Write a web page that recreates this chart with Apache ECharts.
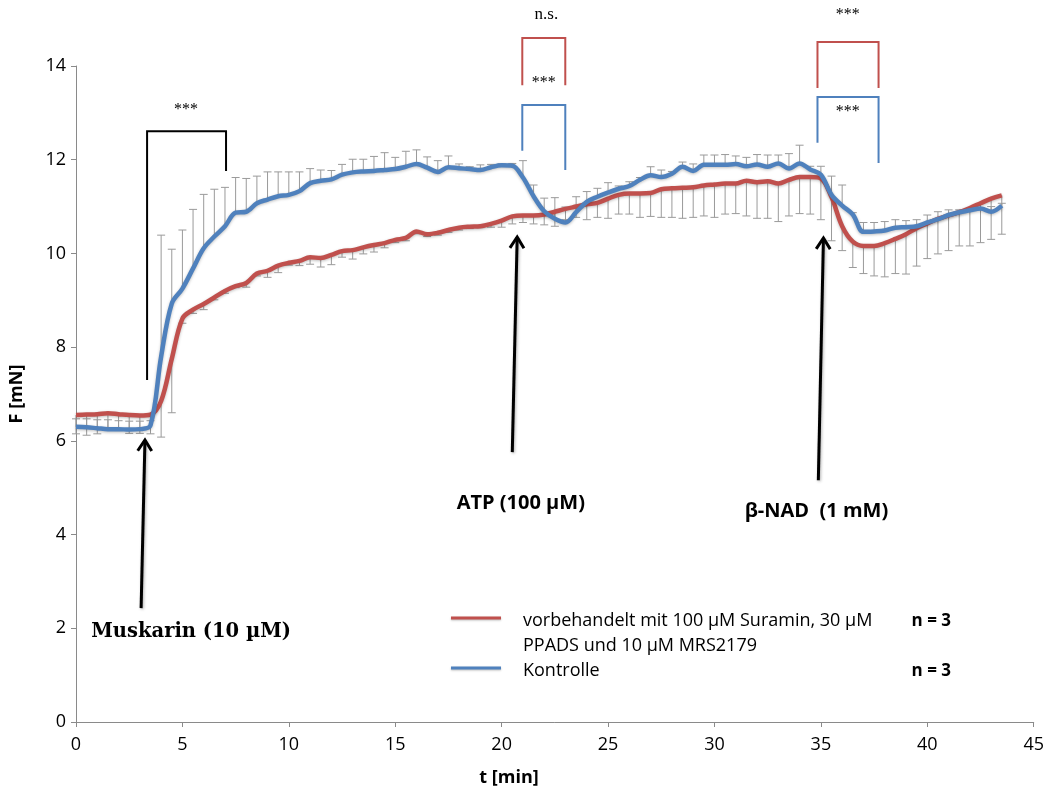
<!DOCTYPE html>
<html>
<head>
<meta charset="utf-8">
<script src="https://cdn.jsdelivr.net/npm/echarts@6/dist/echarts.min.js"></script>
<style>
  html, body { margin: 0; padding: 0; background: #fff; }
  #chart { width: 1047px; height: 796px; }
</style>
</head>
<body>
<div id="chart"></div>
<script>
// Time points (min)
const times = [
  0, 0.5, 1, 1.5, 2, 2.5, 3, 3.5, 4, 4.5, 5, 5.5, 6, 6.5, 7, 7.5,
  8, 8.5, 9, 9.5, 10, 10.5, 11, 11.5, 12, 12.5, 13, 13.5, 14, 14.5, 15, 15.5,
  16, 16.5, 17, 17.5, 18, 18.5, 19, 19.5, 20, 20.5, 21, 21.5, 22, 22.5, 23, 23.5,
  24, 24.5, 25, 25.5, 26, 26.5, 27, 27.5, 28, 28.5, 29, 29.5, 30, 30.5, 31, 31.5,
  32, 32.5, 33, 33.5, 34, 34.5, 35, 35.5, 36, 36.5, 37, 37.5, 38, 38.5, 39, 39.5,
  40, 40.5, 41, 41.5, 42, 42.5, 43, 43.5
];

// Suramin / PPADS / MRS2179 pretreated, mean force (mN)
const suraminMean = [
  6.55, 6.56, 6.57, 6.59, 6.57, 6.55, 6.54, 6.56, 6.85, 7.75, 8.61, 8.80, 8.92, 9.06, 9.20, 9.30,
  9.37, 9.57, 9.63, 9.74, 9.80, 9.84, 9.92, 9.90, 9.97, 10.05, 10.07, 10.13, 10.18, 10.22, 10.29, 10.33,
  10.47, 10.41, 10.44, 10.50, 10.55, 10.57, 10.58, 10.63, 10.70, 10.79, 10.81, 10.81, 10.83, 10.89, 10.95, 11.00,
  11.05, 11.08, 11.17, 11.25, 11.28, 11.28, 11.29, 11.37, 11.39, 11.40, 11.41, 11.45, 11.47, 11.49, 11.49, 11.55,
  11.52, 11.54, 11.49, 11.57, 11.63, 11.63, 11.60, 11.20, 10.58, 10.25, 10.16, 10.16, 10.22, 10.31, 10.41, 10.54,
  10.64, 10.74, 10.81, 10.88, 10.97, 11.07, 11.17, 11.24
];
// Suramin group, error (drawn downwards)
const suraminErr = [
  0.40, 0.44, 0.42, 0.36, 0.35, 0.39, 0.38, 0.41, 0.77, 1.15, 0.10, 0.08, 0.12, 0.05, 0.05, 0.03,
  0.09, 0.05, 0.14, 0.15, 0.05, 0.10, 0.15, 0.19, 0.21, 0.13, 0.19, 0.14, 0.15, 0.10, 0.06, 0.06,
  0.05, 0.05, 0.05, 0.05, 0.05, 0.04, 0.03, 0.07, 0.14, 0.16, 0.15, 0.18, 0.22, 0.31, 0.23, 0.23,
  0.33, 0.31, 0.42, 0.41, 0.44, 0.51, 0.50, 0.60, 0.62, 0.65, 0.64, 0.65, 0.70, 0.65, 0.64, 0.75,
  0.77, 0.79, 0.81, 0.77, 0.78, 0.79, 0.88, 0.93, 0.52, 0.55, 0.59, 0.64, 0.72, 0.74, 0.85, 0.81,
  0.75, 0.75, 0.75, 0.72, 0.81, 0.84, 0.87, 0.83
];

// Control, mean force (mN)
const controlMean = [
  6.30, 6.29, 6.27, 6.25, 6.25, 6.24, 6.25, 6.33, 7.80, 8.93, 9.25, 9.68, 10.11, 10.36, 10.58, 10.87,
  10.89, 11.07, 11.15, 11.22, 11.25, 11.33, 11.50, 11.55, 11.58, 11.68, 11.73, 11.75, 11.76, 11.78, 11.80, 11.85,
  11.91, 11.83, 11.74, 11.84, 11.82, 11.80, 11.78, 11.84, 11.88, 11.87, 11.62, 11.22, 10.90, 10.74, 10.66, 10.88,
  11.10, 11.21, 11.30, 11.38, 11.44, 11.57, 11.67, 11.63, 11.70, 11.85, 11.76, 11.89, 11.89, 11.89, 11.91, 11.86,
  11.90, 11.85, 11.92, 11.81, 11.92, 11.79, 11.68, 11.25, 11.02, 10.83, 10.46, 10.47, 10.49, 10.55, 10.56, 10.58,
  10.66, 10.73, 10.82, 10.88, 10.92, 10.96, 10.89, 11.02
];
// Control, error (drawn upwards)
const controlErr = [
  0.17, 0.18, 0.18, 0.20, 0.18, 0.18, 0.17, 0.10, 2.59, 1.16, 1.25, 1.26, 1.15, 1.01, 0.83, 0.75,
  0.71, 0.58, 0.59, 0.52, 0.49, 0.41, 0.31, 0.23, 0.19, 0.22, 0.28, 0.26, 0.31, 0.37, 0.25, 0.33,
  0.30, 0.23, 0.24, 0.24, 0.09, 0.05, 0.11, 0.06, 0.03, 0.05, 0.36, 0.24, 0.28, 0.45, 0.33, 0.33,
  0.22, 0.18, 0.21, 0.06, 0.09, 0.05, 0.18, 0.15, 0.05, 0.10, 0.15, 0.21, 0.21, 0.22, 0.17, 0.19,
  0.21, 0.25, 0.18, 0.32, 0.39, 0.07, 0.18, 0.40, 0.44, 0.04, 0.20, 0.19, 0.19, 0.17, 0.14, 0.14,
  0.16, 0.16, 0.11, 0.05, 0.03, 0.02, 0.11, 0.05
];

const seriesNames = ['vorbehandelt mit 100 µM Suramin, 30 µM\nPPADS und 10 µM MRS2179', 'Kontrolle'];
const xTicks = [0, 5, 10, 15, 20, 25, 30, 35, 40, 45];
const yTicks = [0, 2, 4, 6, 8, 10, 12, 14];

const RED = '#C0504D';
const BLUE = '#4F81BD';
const SANS = '"Open Sans", "Liberation Sans", sans-serif';
const SERIF = '"DejaVu Serif", "Liberation Serif", serif';

const chart = echarts.init(document.getElementById('chart'), null, { renderer: 'canvas' });

function pairs(ys) { return times.map((t, i) => [t, ys[i]]); }
function errData(ys, es, dir) { return times.map((t, i) => [t, ys[i], es[i], dir]); }

// One error bar: vertical whisker from the mean plus a short cap
function renderErr(params, api) {
  const t = api.value(0), v = api.value(1), e = api.value(2), d = api.value(3);
  const p0 = api.coord([t, v]);
  const p1 = api.coord([t, v + d * e]);
  const cap = 4;
  const style = { stroke: '#9a9a9a', lineWidth: 1 };
  return {
    type: 'group',
    children: [
      { type: 'line', shape: { x1: p0[0], y1: p0[1], x2: p1[0], y2: p1[1] }, style },
      { type: 'line', shape: { x1: p1[0] - cap, y1: p1[1], x2: p1[0] + cap, y2: p1[1] }, style }
    ]
  };
}

const lineShadow = { shadowColor: 'rgba(0,0,0,0.25)', shadowBlur: 3, shadowOffsetY: 1 };

chart.setOption({
  animation: false,
  backgroundColor: '#fff',
  grid: { left: 76, right: 12, top: 66, bottom: 74, containLabel: false },
  xAxis: {
    type: 'value', min: 0, max: 45, interval: 5,
    axisLine: { show: true, lineStyle: { color: '#8a8a8a', width: 1 } },
    axisTick: { show: true, length: 5, lineStyle: { color: '#8a8a8a' } },
    axisLabel: { fontFamily: SANS, fontSize: 18, color: '#000', margin: 14,
      formatter: v => xTicks.includes(v) ? String(v) : '' },
    splitLine: { show: false }
  },
  yAxis: {
    type: 'value', min: 0, max: 14, interval: 2,
    name: 'F [mN]', nameLocation: 'middle', nameGap: 50, nameRotate: 90,
    nameTextStyle: { fontFamily: SANS, fontWeight: 'bold', fontSize: 18, color: '#000' },
    axisLine: { show: true, lineStyle: { color: '#8a8a8a', width: 1 } },
    axisTick: { show: true, length: 5, lineStyle: { color: '#8a8a8a' } },
    axisLabel: { fontFamily: SANS, fontSize: 18, color: '#000', margin: 10,
      formatter: v => yTicks.includes(v) ? String(v) : '' },
    splitLine: { show: false }
  },
  series: [
    { type: 'custom', name: 'errSuramin', renderItem: renderErr, data: errData(suraminMean, suraminErr, -1),
      encode: { x: 0, y: 1 }, z: 1, silent: true },
    { type: 'custom', name: 'errKontrolle', renderItem: renderErr, data: errData(controlMean, controlErr, 1),
      encode: { x: 0, y: 1 }, z: 1, silent: true },
    { type: 'line', name: seriesNames[0], data: pairs(suraminMean), smooth: 0.35, showSymbol: false,
      lineStyle: Object.assign({ color: RED, width: 4.5 }, lineShadow), z: 3 },
    { type: 'line', name: seriesNames[1], data: pairs(controlMean), smooth: 0.35, showSymbol: false,
      lineStyle: Object.assign({ color: BLUE, width: 4.5 }, lineShadow), z: 4 }
  ]
});

// Annotation geometry in data units [t, F]
const stimuli = [
  { label: 'Muskarin (10 µM)', tail: [3.06, 2.43], head: [3.24, 6.02], at: [5.41, 1.93], font: SERIF, size: 19.5 },
  { label: 'ATP (100 µM)', tail: [20.5, 5.76], head: [20.73, 10.35], at: [20.9, 4.67], font: SANS, size: 20 },
  { label: 'β-NAD  (1 mM)', tail: [34.88, 5.16], head: [35.12, 10.33], at: [34.79, 4.49], font: SANS, size: 20 }
];
const brackets = [
  { color: '#000', x: [3.34, 7.05], top: 12.61, left: 7.30, right: 11.76, star: '***', starAt: [5.17, 13.06] },
  { color: RED, x: [20.97, 22.99], top: 14.60, left: 13.59, right: 13.59, star: 'n.s.', starAt: [22.1, 15.09] },
  { color: BLUE, x: [20.97, 22.99], top: 13.17, left: 12.19, right: 11.78, star: '***', starAt: [21.98, 13.64] },
  { color: RED, x: [34.84, 37.71], top: 14.51, left: 13.53, right: 13.53, star: '***', starAt: [36.26, 15.09] },
  { color: BLUE, x: [34.84, 37.71], top: 13.34, left: 12.36, right: 11.93, star: '***', starAt: [36.26, 13.02] }
];

function px(p) { return chart.convertToPixel({ xAxisIndex: 0, yAxisIndex: 0 }, p); }

const g = [];
stimuli.forEach(s => {
  const a = px(s.tail), b = px(s.head);
  const dx = b[0] - a[0], dy = b[1] - a[1];
  const len = Math.hypot(dx, dy), ux = dx / len, uy = dy / len;
  const hl = 11, hw = 7;
  const l = [b[0] - ux * hl - uy * hw, b[1] - uy * hl + ux * hw];
  const r = [b[0] - ux * hl + uy * hw, b[1] - uy * hl - ux * hw];
  g.push({ type: 'line', shape: { x1: a[0], y1: a[1], x2: b[0], y2: b[1] },
    style: { stroke: '#000', lineWidth: 3, shadowColor: 'rgba(0,0,0,0.3)', shadowBlur: 3, shadowOffsetX: 1, shadowOffsetY: 1 }, z: 10 });
  g.push({ type: 'polyline', shape: { points: [l, b, r] },
    style: { stroke: '#000', fill: null, lineWidth: 3, lineJoin: 'miter' }, z: 10 });
  const c = px(s.at);
  g.push({ type: 'text', x: c[0], y: c[1], z: 10,
    style: { text: s.label, fontFamily: s.font, fontWeight: 'bold', fontSize: s.size, fill: '#000',
      align: 'center', verticalAlign: 'middle' } });
});
brackets.forEach(br => {
  const lb = px([br.x[0], br.left]), lt = px([br.x[0], br.top]);
  const rt = px([br.x[1], br.top]), rb = px([br.x[1], br.right]);
  g.push({ type: 'polyline', shape: { points: [lb, lt, rt, rb] },
    style: { stroke: br.color, fill: null, lineWidth: 2 }, z: 10 });
  const s = px(br.starAt);
  g.push({ type: 'text', x: s[0], y: s[1], z: 10,
    style: { text: br.star, fontFamily: '"Liberation Serif", serif', fontSize: br.star === 'n.s.' ? 17 : 16,
      fill: '#000', align: 'center', verticalAlign: 'middle' } });
});

// x axis title, set slightly left of the axis centre
g.push({ type: 'text', x: 509, y: 778, z: 10,
  style: { text: 't [min]', fontFamily: SANS, fontWeight: 'bold', fontSize: 18, fill: '#000',
    align: 'center', verticalAlign: 'middle' } });

// Legend
const legendRows = [
  { color: RED, text: seriesNames[0], n: 'n = 3', y: 620 },
  { color: BLUE, text: seriesNames[1], n: 'n = 3', y: 670 }
];
legendRows.forEach(row => {
  g.push({ type: 'line', shape: { x1: 451, y1: row.y - 2, x2: 501, y2: row.y - 2 },
    style: { stroke: row.color, lineWidth: 3, shadowColor: 'rgba(0,0,0,0.25)', shadowBlur: 2, shadowOffsetY: 1 }, z: 10 });
  g.push({ type: 'text', x: 523, y: row.y - 11.5, z: 10,
    style: { text: row.text, fontFamily: SANS, fontSize: 18, lineHeight: 25, fill: '#000', align: 'left', verticalAlign: 'top' } });
  g.push({ type: 'text', x: 951, y: row.y + 1, z: 10,
    style: { text: row.n, fontFamily: SANS, fontWeight: 'bold', fontSize: 17, fill: '#000', align: 'right', verticalAlign: 'middle' } });
});

chart.setOption({ graphic: g });
</script>
</body>
</html>
